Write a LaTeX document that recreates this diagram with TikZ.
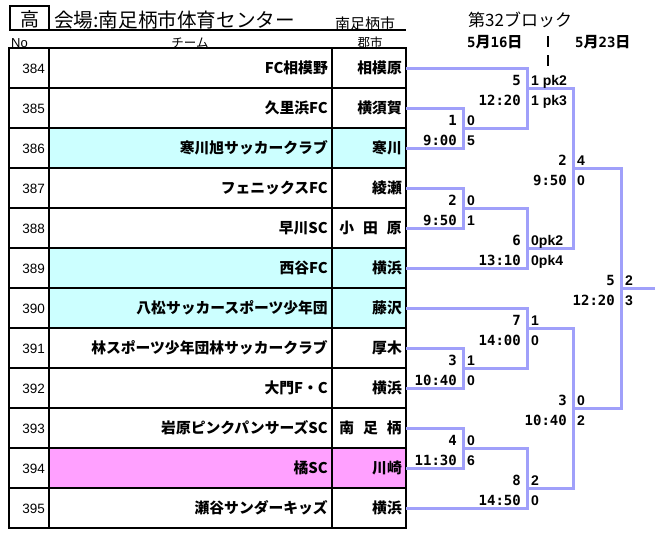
\documentclass[tikz,border=0pt]{standalone}
\usepackage{fontspec}
\newfontfamily\jp{Noto Sans CJK JP}
\newfontfamily\monof{DejaVu Sans Mono}
\newfontfamily\lsans{Liberation Sans}
\definecolor{cyanrow}{RGB}{204,255,255}
\definecolor{pinkrow}{RGB}{255,160,255}
\definecolor{brk}{RGB}{160,160,250}
\tikzset{
  grid/.style={draw=black,line width=1.2pt},
  numtxt/.style={anchor=base east,inner sep=0pt,font=\lsans\fontsize{13.5}{14}\selectfont},
  teamtxt/.style={anchor=base east,inner sep=0pt,font=\jp\bfseries\fontsize{14.8}{16}\selectfont},
  hdrtxt/.style={inner sep=0pt,font=\jp\fontsize{12.5}{14}\selectfont},
  brkline/.style={draw=brk,line width=3pt,line join=miter},
  lefttxt/.style={anchor=base east,inner sep=0pt,font=\monof\bfseries\fontsize{14}{14}\selectfont},
  righttxt/.style={anchor=base west,inner sep=0pt,font=\lsans\bfseries\fontsize{14}{14}\selectfont},
  barline/.style={draw=black,line width=2pt}
}
\newcommand{\matchlabels}[5]{%
  \node[lefttxt] (#1ul) at ([shift={(-6,-3)}]#1) {#2};
  \node[lefttxt] (#1ll) at ([shift={(-6,17)}]#1) {#3};
  \node[righttxt] (#1ur) at ([shift={(4,-3)}]#1) {#4};
  \node[righttxt] (#1lr) at ([shift={(4,17)}]#1) {#5};
}
\begin{document}
\begin{tikzpicture}[x=1pt,y=-1pt]
\useasboundingbox (0,0) rectangle (665,552);
\fill[white] (0,0) rectangle (665,552);

% header
\draw[black,line width=2pt] (10,6) rectangle (49,30);
\node[inner sep=0pt,anchor=base,font=\jp\fontsize{19}{20}\selectfont] (takabox) at (29.5,26.5) {高};
\node[inner sep=0pt,anchor=base west,font=\jp\fontsize{19.6}{20}\selectfont] (venue) at (54,27) {会場:南足柄市体育センター};
\node[inner sep=0pt,anchor=base west,font=\jp\fontsize{15}{16}\selectfont] (town) at (335,29) {南足柄市};
\draw[black,line width=1.2pt] (9,30) -- (406,30);
\node[inner sep=0pt,anchor=base west,font=\lsans\fontsize{13}{14}\selectfont] (hno) at (11,47) {No};
\node[hdrtxt,anchor=base] (hteam) at (190,47) {チーム};
\node[hdrtxt,anchor=base] (hcity) at (370,47) {郡市};

% row fills
\fill[cyanrow] (49,128) rectangle (406,168);
\fill[cyanrow] (49,248) rectangle (406,328);
\fill[pinkrow] (49,448) rectangle (406,488);

% table grid
\draw[grid] (9,48) rectangle (406,528);
\draw[grid] (49,48) -- (49,528);
\draw[grid] (332,48) -- (332,528);
\foreach \k in {1,...,11} { \draw[grid] (9,48+40*\k) -- (406,48+40*\k); }

% rows
\foreach \n/\t/\c [count=\i from 0] in {
 384/FC相模野/相模原,
 385/久里浜FC/横須賀,
 386/寒川旭サッカークラブ/寒川,
 387/フェニックスFC/綾瀬,
 388/早川SC/{小\hspace{9pt}田\hspace{9pt}原},
 389/西谷FC/横浜,
 390/八松サッカースポーツ少年団/藤沢,
 391/林スポーツ少年団林サッカークラブ/厚木,
 392/大門F・C/横浜,
 393/岩原ピンクパンサーズSC/{南\hspace{9pt}足\hspace{9pt}柄},
 394/橘SC/川崎,
 395/瀬谷サンダーキッズ/横浜} {
  \node[numtxt] (n\n) at (45,73+40*\i) {\n};
  \node[teamtxt] (t\n) at (328,73.5+40*\i) {\t};
  \node[teamtxt] (c\n) at (402,73.5+40*\i) {\c};
  \coordinate (e\n) at (406,68+40*\i);
}

% date header
\node[inner sep=0pt,anchor=base west,font=\jp\fontsize{17}{18}\selectfont] (block) at (468,26) {第32ブロック};
\node[inner sep=0pt,anchor=base west] (d1) at (467,47) {{\monof\bfseries\fontsize{14}{14}\selectfont 5}{\jp\bfseries\fontsize{15}{15}\selectfont 月}{\monof\bfseries\fontsize{14}{14}\selectfont 16}{\jp\bfseries\fontsize{15}{15}\selectfont 日}};
\node[inner sep=0pt,anchor=base west] (d2) at (575,47) {{\monof\bfseries\fontsize{14}{14}\selectfont 5}{\jp\bfseries\fontsize{15}{15}\selectfont 月}{\monof\bfseries\fontsize{14}{14}\selectfont 23}{\jp\bfseries\fontsize{15}{15}\selectfont 日}};
\coordinate (bar1a) at (548,36); \coordinate (bar1b) at (548,47);
\coordinate (bar2a) at (548,55); \coordinate (bar2b) at (548,66);
\draw[barline] (bar1a) -- (bar1b);
\draw[barline] (bar2a) -- (bar2b);

% bracket match points (output points)
\coordinate (mA) at (463,128);
\coordinate (mB) at (463,208);
\coordinate (mC) at (463,368);
\coordinate (mD) at (463,448);
\coordinate (m5) at (527,88);
\coordinate (m6) at (527,248);
\coordinate (m7) at (527,328);
\coordinate (m8) at (527,488);
\coordinate (m9) at (573,168);
\coordinate (m10) at (573,408);
\coordinate (mF) at (621,288);
\coordinate (win) at (655,288);

\draw[brkline] (e385) -| (mA) |- (e386);
\draw[brkline] (e387) -| (mB) |- (e388);
\draw[brkline] (e391) -| (mC) |- (e392);
\draw[brkline] (e393) -| (mD) |- (e394);
\draw[brkline] (e384) -| (m5) |- (mA);
\draw[brkline] (mB) -| (m6) |- (e389);
\draw[brkline] (e390) -| (m7) |- (mC);
\draw[brkline] (mD) -| (m8) |- (e395);
\draw[brkline] (m5) -| (m9) |- (m6);
\draw[brkline] (m7) -| (m10) |- (m8);
\draw[brkline] (m9) -| (mF) |- (m10);
\draw[brkline] (mF) -- (win);

% labels
\matchlabels{m5}{5}{12:20}{1 pk2}{1 pk3}
\matchlabels{mA}{1}{9:00}{0}{5}
\matchlabels{mB}{2}{9:50}{0}{1}
\matchlabels{m6}{6}{13:10}{0pk2}{0pk4}
\matchlabels{m9}{2}{9:50}{4}{0}
\matchlabels{mF}{5}{12:20}{2}{3}
\matchlabels{m7}{7}{14:00}{1}{0}
\matchlabels{mC}{3}{10:40}{1}{0}
\matchlabels{m10}{3}{10:40}{0}{2}
\matchlabels{mD}{4}{11:30}{0}{6}
\matchlabels{m8}{8}{14:50}{2}{0}
\end{tikzpicture}
\end{document}
